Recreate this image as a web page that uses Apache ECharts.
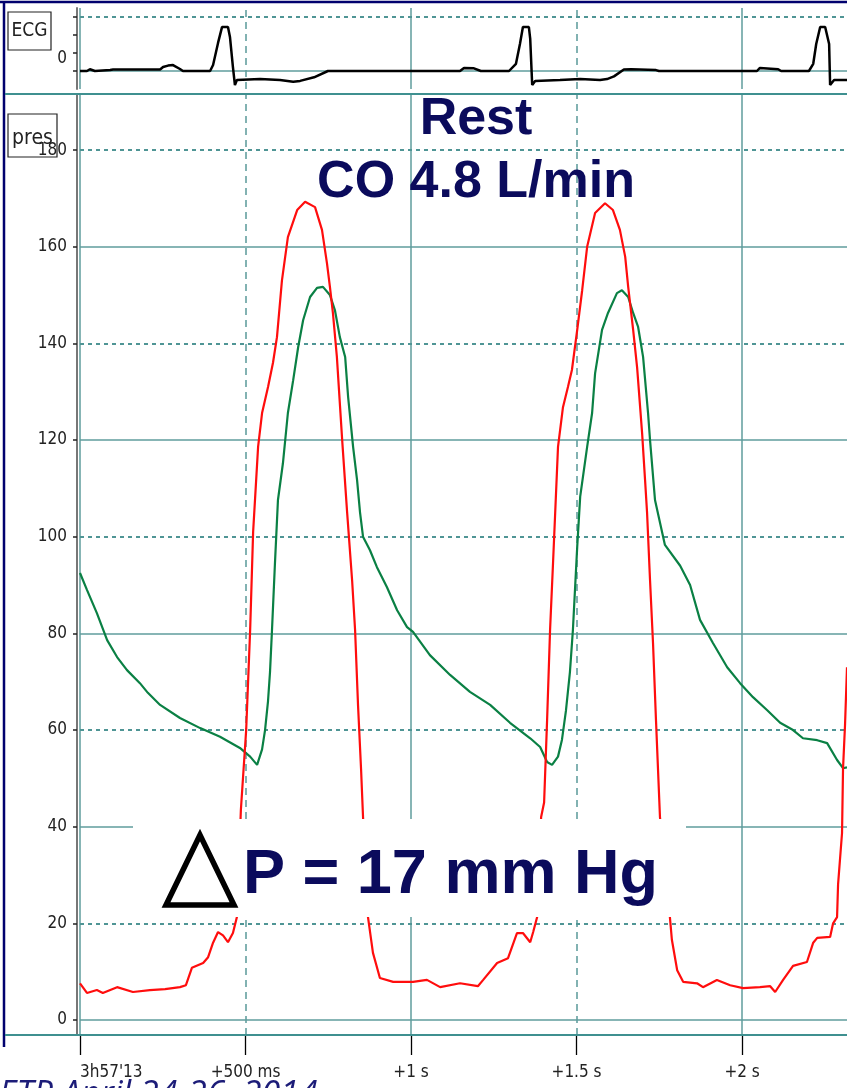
<!DOCTYPE html>
<html>
<head>
<meta charset="utf-8">
<script src="https://cdn.jsdelivr.net/npm/echarts@6/dist/echarts.min.js"></script>
<style>
html, body { margin: 0; padding: 0; background: #fff; }
#chart { width: 847px; height: 1088px; }
</style>
</head>
<body>
<div id="chart"></div>
<script>
// Time axis: seconds after 3h57'13
const timeTicks = [0, 0.5, 1, 1.5, 2];
const timeTickLabels = ["3h57'13", '+500 ms', '+1 s', '+1.5 s', '+2 s'];
const pressureTicks = [0, 20, 40, 60, 80, 100, 120, 140, 160, 180];
const ecgTicks = [0, 1, 2, 3];
const ecgLabelTicks = [0];

// Ventricular pressure (mmHg) — [time s, pressure]
const ventricularPressure = [
  [0.000, 7.6], [0.021, 5.6], [0.051, 6.2], [0.069, 5.6], [0.112, 6.8], [0.160, 5.8],
  [0.211, 6.2], [0.257, 6.4], [0.302, 6.8], [0.320, 7.2], [0.338, 10.8], [0.372, 11.8],
  [0.387, 13.0], [0.402, 16.0], [0.417, 18.2], [0.432, 17.5], [0.447, 16.1], [0.462, 18.0],
  [0.474, 21.3], [0.486, 43.5], [0.502, 60.0], [0.514, 80.7], [0.523, 101.0], [0.538, 118.6],
  [0.550, 125.6], [0.568, 131.0], [0.583, 136.0], [0.595, 141.3], [0.610, 153.0], [0.628, 162.0],
  [0.656, 167.6], [0.680, 169.3], [0.710, 168.2], [0.731, 163.5], [0.746, 156.6], [0.755, 151.7],
  [0.764, 146.3], [0.776, 137.2], [0.792, 120.0], [0.807, 105.0], [0.822, 91.0], [0.831, 80.7],
  [0.840, 65.0], [0.849, 52.0], [0.855, 42.0], [0.870, 21.3], [0.885, 13.9], [0.906, 8.7],
  [0.946, 7.9], [1.006, 7.9], [1.048, 8.3], [1.088, 6.8], [1.148, 7.6], [1.202, 7.0],
  [1.218, 8.3], [1.260, 11.8], [1.293, 12.8], [1.320, 18.0], [1.338, 18.0], [1.360, 16.1],
  [1.369, 18.2], [1.381, 21.3], [1.393, 42.0], [1.402, 45.0], [1.411, 62.0], [1.420, 80.7],
  [1.429, 94.6], [1.444, 118.6], [1.459, 126.8], [1.474, 131.0], [1.486, 134.5], [1.502, 142.8],
  [1.517, 151.0], [1.532, 160.0], [1.556, 167.0], [1.586, 169.0], [1.610, 167.6], [1.631, 163.5],
  [1.647, 157.9], [1.656, 151.7], [1.671, 142.8], [1.683, 135.0], [1.698, 121.5], [1.707, 111.7],
  [1.713, 105.0], [1.722, 91.0], [1.731, 78.0], [1.740, 62.0], [1.752, 42.0], [1.782, 21.3],
  [1.788, 16.6], [1.804, 10.3], [1.822, 7.9], [1.864, 7.6], [1.882, 6.8], [1.924, 8.3],
  [1.964, 7.2], [2.003, 6.6], [2.054, 6.8], [2.085, 7.0], [2.100, 5.8], [2.124, 8.3],
  [2.154, 11.2], [2.196, 12.0], [2.215, 16.0], [2.227, 17.0], [2.266, 17.2], [2.275, 20.0],
  [2.287, 21.3], [2.290, 28.0], [2.302, 38.7], [2.305, 52.0], [2.311, 61.0], [2.317, 73.0]
];

// Aortic pressure (mmHg) — [time s, pressure]
const aorticPressure = [
  [0.000, 92.5], [0.021, 89.0], [0.051, 84.2], [0.082, 78.6], [0.112, 75.1], [0.142, 72.4],
  [0.181, 69.7], [0.205, 67.7], [0.242, 65.2], [0.302, 62.5], [0.363, 60.4], [0.423, 58.6],
  [0.483, 56.3], [0.514, 54.5], [0.535, 52.8], [0.550, 56.0], [0.559, 60.0], [0.568, 66.0],
  [0.574, 72.0], [0.580, 80.7], [0.589, 94.6], [0.598, 107.6], [0.613, 115.2], [0.628, 125.6],
  [0.644, 132.4], [0.659, 139.2], [0.674, 144.8], [0.695, 149.6], [0.716, 151.5], [0.734, 151.7],
  [0.755, 150.0], [0.770, 146.9], [0.785, 141.3], [0.801, 137.2], [0.810, 128.9], [0.825, 118.6],
  [0.837, 111.7], [0.846, 105.0], [0.855, 100.0], [0.876, 97.2], [0.897, 93.7], [0.927, 89.6],
  [0.958, 84.8], [0.988, 81.3], [1.006, 80.3], [1.057, 75.5], [1.118, 71.4], [1.178, 67.9],
  [1.239, 65.2], [1.299, 61.5], [1.360, 58.3], [1.390, 56.5], [1.411, 53.4], [1.426, 52.8],
  [1.444, 54.5], [1.456, 58.0], [1.468, 64.0], [1.480, 72.0], [1.489, 80.7], [1.502, 97.9],
  [1.511, 108.3], [1.532, 118.6], [1.547, 125.6], [1.556, 133.8], [1.577, 142.8], [1.595, 146.3],
  [1.622, 150.4], [1.637, 151.0], [1.656, 149.6], [1.671, 146.3], [1.686, 143.4], [1.701, 137.2],
  [1.716, 125.6], [1.722, 120.0], [1.737, 107.6], [1.767, 98.3], [1.813, 94.0], [1.843, 90.0],
  [1.873, 82.8], [1.912, 78.0], [1.955, 73.0], [1.994, 69.7], [2.033, 66.8], [2.076, 64.1],
  [2.115, 61.5], [2.154, 60.0], [2.184, 58.3], [2.227, 57.9], [2.257, 57.3], [2.287, 53.8],
  [2.305, 52.1], [2.317, 52.3]
];

// ECG lead — [time s, amplitude]
const ecgTrace = [
  [0.000, 0], [0.021, 0], [0.030, 0.1], [0.045, 0], [0.091, 0.05], [0.100, 0.08],
  [0.242, 0.08], [0.251, 0.22], [0.266, 0.3], [0.281, 0.33], [0.302, 0.11], [0.311, 0],
  [0.393, 0], [0.402, 0.33], [0.417, 1.56], [0.429, 2.44], [0.447, 2.44], [0.453, 1.89],
  [0.462, 0.22], [0.468, -0.78], [0.474, -0.5], [0.544, -0.45], [0.604, -0.5], [0.644, -0.6],
  [0.665, -0.55], [0.707, -0.35], [0.749, 0], [0.846, 0], [0.852, -0.05], [0.858, 0],
  [1.148, 0], [1.160, 0.17], [1.190, 0.15], [1.211, 0], [1.296, 0], [1.317, 0.4],
  [1.329, 1.5], [1.338, 2.44], [1.356, 2.44], [1.360, 1.8], [1.366, -0.78], [1.375, -0.55],
  [1.450, -0.5], [1.511, -0.45], [1.571, -0.5], [1.592, -0.45], [1.613, -0.3], [1.643, 0.08],
  [1.665, 0.1], [1.740, 0.05], [1.749, 0], [2.045, 0], [2.054, 0.17], [2.109, 0.1],
  [2.118, 0], [2.202, 0], [2.215, 0.4], [2.224, 1.5], [2.236, 2.44], [2.251, 2.44],
  [2.263, 1.5], [2.266, -0.78], [2.278, -0.5], [2.317, -0.5]
];

const TIME_MAX = 2.317;
const GRID_SOLID = { color: '#5f9d9d', width: 1.5, type: 'solid' };
const GRID_DOT = { color: '#4f9595', width: 2, type: [4, 4] };
const GRID_DASH = { color: '#5a9999', width: 1.5, type: [7, 5] };
const narrowFont = "'DejaVu Sans Condensed','Liberation Sans Narrow','Arial Narrow',sans-serif";
const navy = '#0b0b5c';

function timeLines() {
  return timeTicks.map(t => ({
    xAxis: t,
    lineStyle: Number.isInteger(t) ? GRID_SOLID : GRID_DASH
  }));
}
function pressureLines() {
  return pressureTicks.map((p, i) => ({
    yAxis: p,
    lineStyle: i % 2 === 0 ? GRID_SOLID : GRID_DOT
  }));
}
function gridMarkLine(data) {
  return {
    silent: true,
    symbol: ['none', 'none'],
    label: { show: false },
    emphasis: { disabled: true },
    animation: false,
    z: 1,
    data: data
  };
}

const chart = echarts.init(document.getElementById('chart'), null, { renderer: 'canvas' });

const option = {
  animation: false,
  backgroundColor: '#ffffff',
  grid: [
    { left: 80, right: 0, top: 8, height: 81 },
    { left: 80, right: 0, top: 95, bottom: 53 }
  ],
  xAxis: [
    {
      type: 'value', gridIndex: 0, min: 0, max: TIME_MAX, interval: 0.5,
      axisLine: { show: false, onZero: false }, axisTick: { show: false }, axisLabel: { show: false },
      splitLine: { show: false }
    },
    {
      type: 'value', gridIndex: 1, min: 0, max: TIME_MAX, interval: 0.5,
      position: 'bottom',
      axisLine: { show: true, onZero: false, lineStyle: { color: '#3f9090', width: 2 } },
      axisTick: { show: true, inside: false, length: 20, lineStyle: { color: '#000', width: 1.3 } },
      axisLabel: {
        show: true,
        margin: 29,
        fontFamily: narrowFont,
        fontSize: 17,
        color: '#222',
        alignMinLabel: 'left',
        showMaxLabel: false,
        formatter: v => {
          const i = timeTicks.findIndex(t => Math.abs(t - v) < 1e-6);
          return i >= 0 ? timeTickLabels[i] : '';
        }
      },
      splitLine: { show: false }
    }
  ],
  yAxis: [
    {
      type: 'value', gridIndex: 0, min: -1, max: 3.5, offset: 3,
      axisLine: { show: true, onZero: false, lineStyle: { color: '#777', width: 2 } },
      axisTick: { show: true, length: 4, customValues: ecgTicks, lineStyle: { color: '#222', width: 1.5 } },
      axisLabel: {
        show: true, customValues: ecgLabelTicks, margin: 10,
        fontFamily: narrowFont, fontSize: 17, color: '#222',
        verticalAlign: 'bottom', padding: [0, 0, 4, 0]
      },
      splitLine: { show: false }
    },
    {
      type: 'value', gridIndex: 1, min: -3.1, max: 191.4, offset: 3,
      axisLine: { show: true, onZero: false, lineStyle: { color: '#777', width: 2 } },
      axisTick: { show: true, length: 4, customValues: pressureTicks, lineStyle: { color: '#222', width: 1.5 } },
      axisLabel: {
        show: true, customValues: pressureTicks, margin: 10,
        fontFamily: narrowFont, fontSize: 17, color: '#222'
      },
      splitLine: { show: false }
    }
  ],
  series: [
    {
      name: 'ECG', type: 'line', xAxisIndex: 0, yAxisIndex: 0,
      data: ecgTrace, showSymbol: false, symbol: 'none',
      lineStyle: { color: '#000', width: 2.5 },
      emphasis: { disabled: true },
      markLine: gridMarkLine(timeLines().concat([
        { yAxis: 0, lineStyle: GRID_SOLID },
        { yAxis: 3, lineStyle: GRID_DOT }
      ])),
      z: 3
    },
    {
      name: 'Aortic pressure', type: 'line', xAxisIndex: 1, yAxisIndex: 1,
      data: aorticPressure, showSymbol: false, symbol: 'none',
      lineStyle: { color: '#0a8044', width: 2.2 },
      emphasis: { disabled: true },
      markLine: gridMarkLine(timeLines().concat(pressureLines())),
      z: 3
    },
    {
      name: 'Ventricular pressure', type: 'line', xAxisIndex: 1, yAxisIndex: 1,
      data: ventricularPressure, showSymbol: false, symbol: 'none',
      lineStyle: { color: '#ff0d0d', width: 2.2 },
      emphasis: { disabled: true },
      z: 4
    }
  ],
  graphic: [
    // panel frame and separators
    { type: 'line', z: 50, shape: { x1: 0, y1: 2, x2: 847, y2: 2 }, style: { stroke: '#00006e', lineWidth: 2.5 } },
    { type: 'line', z: 50, shape: { x1: 4, y1: 2, x2: 4, y2: 1047 }, style: { stroke: '#00006e', lineWidth: 2.5 } },
    { type: 'line', z: 50, shape: { x1: 5, y1: 94, x2: 847, y2: 94 }, style: { stroke: '#3f9090', lineWidth: 2 } },
    { type: 'line', z: 50, shape: { x1: 5, y1: 1035, x2: 847, y2: 1035 }, style: { stroke: '#3f9090', lineWidth: 2 } },
    // channel name boxes
    { type: 'rect', z: 60, shape: { x: 8, y: 12, width: 43, height: 38 }, style: { fill: 'rgba(255,255,255,0)', stroke: '#222', lineWidth: 1.2 } },
    { type: 'text', z: 61, x: 29.5, y: 31, style: { text: 'ECG', font: '19px ' + narrowFont, fill: '#222', align: 'center', verticalAlign: 'middle' } },
    { type: 'rect', z: 60, shape: { x: 8, y: 114, width: 49, height: 43 }, style: { fill: 'rgba(255,255,255,0)', stroke: '#222', lineWidth: 1.2 } },
    { type: 'text', z: 61, x: 32.5, y: 139, style: { text: 'pres', font: '21px ' + narrowFont, fill: '#222', align: 'center', verticalAlign: 'middle' } },
    // headline
    { type: 'text', z: 70, x: 476, y: 120, style: { text: 'Rest', font: 'bold 52px "Liberation Sans", Arial, sans-serif', fill: navy, align: 'center', verticalAlign: 'middle' } },
    { type: 'text', z: 70, x: 476, y: 183, style: { text: 'CO 4.8 L/min', font: 'bold 52px "Liberation Sans", Arial, sans-serif', fill: navy, align: 'center', verticalAlign: 'middle' } },
    // pressure gradient panel
    { type: 'rect', z: 80, shape: { x: 133, y: 819, width: 553, height: 98 }, style: { fill: '#ffffff' } },
    { type: 'polygon', z: 81, shape: { points: [[200, 835], [166, 905], [234, 905]] }, style: { fill: 'none', stroke: '#000', lineWidth: 5.5, lineJoin: 'miter' } },
    { type: 'text', z: 81, x: 243, y: 876, style: { text: 'P = 17 mm Hg', font: 'bold 63px "Liberation Sans", Arial, sans-serif', fill: navy, align: 'left', verticalAlign: 'middle' } },
    // footer
    { type: 'text', z: 90, x: -1, y: 1078, style: { text: 'ETR April 24-26, 2014', font: 'italic 34px "Open Sans", sans-serif', fill: '#1c1c78', align: 'left', verticalAlign: 'top' } }
  ]
};

chart.setOption(option);
</script>
</body>
</html>
